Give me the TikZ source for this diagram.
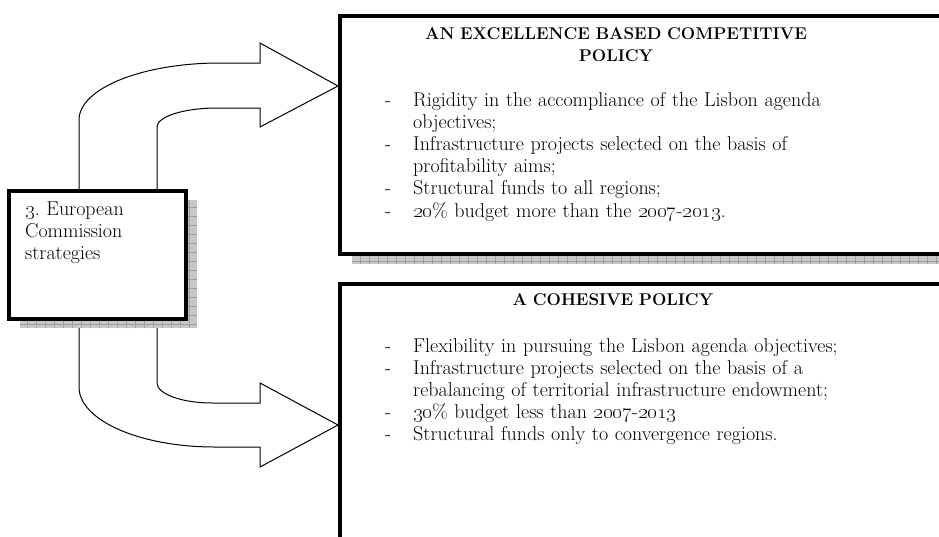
\documentclass[tikz,border=0pt]{standalone}
\usetikzlibrary{positioning}

\newcommand{\dashitem}{\makebox[28pt][l]{-}}
\newcommand{\dashcont}{\hspace*{28pt}}

\tikzset{
	framebox/.style={draw, line width=3.5pt, fill=white, inner sep=0pt, anchor=north west},
	shadowbox/.style={fill=black!22},
	shadowgrid/.style={draw=black!38, line width=0.4pt},
	blockarrow/.style={draw, line width=1pt, fill=white, line join=miter},
	bodytext/.style={font=\fontsize{20}{22.2}\selectfont, inner sep=0pt, align=left, text width=#1, anchor=base west},
	titletext/.style={font=\fontsize{17}{22.5}\selectfont\bfseries, inner sep=0pt, align=center, text width=520pt, anchor=base}
}

\begin{document}
\begin{tikzpicture}[x=1pt, y=-1pt]
		%%%%% START %%%%%
		\useasboundingbox (0,0) rectangle (939,536);
		
		% upper arrow
		\draw[blockarrow] (79,200) -- (79,120) .. controls (79,88.5) and (142,63) .. (220,63)
			-- (260,63) -- (260,43) -- (338,86) -- (260,127) -- (260,108) -- (217,108)
			.. controls (184,108) and (157,116.5) .. (157,127) -- (157,200);
		
		% lower arrow
		\draw[blockarrow] (79,305) -- (79,387) .. controls (79,420) and (139,447) .. (215,447)
			-- (260,447) -- (260,467) -- (338,425) -- (260,383) -- (260,403) -- (212,403)
			.. controls (182,403) and (157,394) .. (157,383) -- (157,305);
		
		% shadows
		\fill[shadowbox] (20,200) rectangle (197,328);
		\fill[shadowbox] (352,252) rectangle (960,264);
		\begin{scope}
			\clip (20,200) rectangle (197,328) (352,252) rectangle (960,264);
			\draw[shadowgrid, step=9pt] (0,190) grid (960,330);
		\end{scope}
		
		% boxes
		\node[framebox, minimum width=177pt, minimum height=128pt] (strategy) at (7,189) {};
		\node[framebox, minimum width=622pt, minimum height=238pt] (excellence) at (338,14) {};
		\node[framebox, minimum width=622pt, minimum height=256pt] (cohesive) at (338,282) {};
		
		% texts
		\node[bodytext=160pt] (strategylabel) at (25,215) {\oldstylenums{3}.\ European\\Commission\\strategies};
		
		\node[titletext] (excellencetitle) at (616,39) {AN EXCELLENCE BASED COMPETITIVE\\POLICY};
		\node[bodytext=560pt] (excellencelist) at (385,106) {%
			\dashitem Rigidity in the accompliance of the Lisbon agenda\\
			\dashcont objectives;\\
			\dashitem Infrastructure projects selected on the basis of\\
			\dashcont profitability aims;\\
			\dashitem Structural funds to all regions;\\
			\dashitem \oldstylenums{20}\% budget more than the \oldstylenums{2007}-\oldstylenums{2013}.};
		
		\node[titletext] (cohesivetitle) at (613,305) {A COHESIVE POLICY};
		\node[bodytext=560pt] (cohesivelist) at (385,352) {%
			\dashitem Flexibility in pursuing the Lisbon agenda objectives;\\
			\dashitem Infrastructure projects selected on the basis of a\\
			\dashcont rebalancing of territorial infrastructure endowment;\\
			\dashitem \oldstylenums{30}\% budget less than \oldstylenums{2007}-\oldstylenums{2013}\\
			\dashitem Structural funds only to convergence regions.};
		
		%%%%% END %%%%%
\end{tikzpicture}
\end{document}
